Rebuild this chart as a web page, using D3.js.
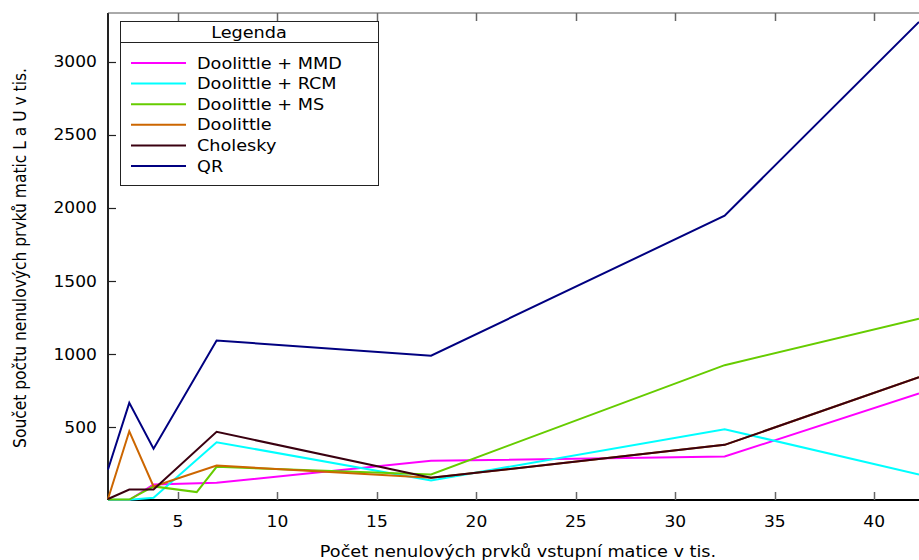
<!DOCTYPE html>
<html>
<head>
<meta charset="utf-8">
<script src="https://cdn.jsdelivr.net/npm/d3@7"></script>
<style>
  html, body { margin: 0; padding: 0; background: #fff; }
  svg { display: block; font-family: "DejaVu Sans", sans-serif; }
</style>
</head>
<body>
<svg id="chart" width="919" height="560"></svg>
<script>
// Počet nenulových prvků vstupní matice (v tisících)
const xValues = [1.48, 2.55, 3.77, 6.94, 17.72, 32.48, 42.25];
const xValuesMS = [1.48, 2.55, 3.77, 5.94, 6.94, 17.72, 32.48, 42.25];

// Součet nenulových prvků L a U (v tisících)
const doolittleMMD = [3, 3, 109, 121, 271, 300, 731];
const doolittleRCM = [5, 5, 18, 398, 137, 487, 178];
const doolittleMS = [6, 6, 96, 57, 230, 178, 925, 1243];
const doolittle = [10, 473, 96, 239, 155, 380, 842];
const cholesky = [10, 75, 75, 469, 155, 380, 842];
const qr = [212, 667, 353, 1093, 990, 1947, 3272];

const seriesNames = ["Doolittle + MMD", "Doolittle + RCM", "Doolittle + MS", "Doolittle", "Cholesky", "QR"];
const xTicks = [5, 10, 15, 20, 25, 30, 35, 40];
const yTicks = [500, 1000, 1500, 2000, 2500, 3000];

const series = [
  { name: seriesNames[0], xs: xValues,   ys: doolittleMMD, color: "#ff00ff" },
  { name: seriesNames[1], xs: xValues,   ys: doolittleRCM, color: "#00ffff" },
  { name: seriesNames[2], xs: xValuesMS, ys: doolittleMS,  color: "#66cc00" },
  { name: seriesNames[3], xs: xValues,   ys: doolittle,    color: "#cc6600" },
  { name: seriesNames[4], xs: xValues,   ys: cholesky,     color: "#3a0010" },
  { name: seriesNames[5], xs: xValues,   ys: qr,           color: "#000080" }
];

const svg = d3.select("#chart");
const plotLeft = 108, plotRight = 919, plotTop = 13, plotBottom = 500;
const stretch = 1.14; // glyphs are rendered wider than tall

const x = d3.scaleLinear().domain([1.48, 42.25]).range([plotLeft, plotRight]);
const y = d3.scaleLinear().domain([3, 3333]).range([plotBottom, plotTop]);

// horizontal text helper with widened glyphs
function label(parent, tx, ty, str, size, anchor) {
  return parent.append("text")
    .attr("transform", `translate(${tx},${ty}) scale(${stretch},1)`)
    .attr("text-anchor", anchor || "start")
    .attr("font-size", size).attr("fill", "#000").text(str);
}

// tick marks drawn inward, gnuplot style
const tickLen = 8;
const g = svg.append("g");

// borders: left, bottom, top
g.append("line").attr("x1", plotLeft).attr("x2", plotLeft).attr("y1", plotTop).attr("y2", plotBottom)
  .attr("stroke", "#222").attr("stroke-width", 2);
g.append("line").attr("x1", plotLeft).attr("x2", plotRight).attr("y1", plotBottom).attr("y2", plotBottom)
  .attr("stroke", "#000").attr("stroke-width", 2);
g.append("line").attr("x1", plotLeft).attr("x2", plotRight).attr("y1", plotTop).attr("y2", plotTop)
  .attr("stroke", "#555").attr("stroke-width", 1);

// x ticks (bottom and mirrored top)
xTicks.forEach(t => {
  const px = Math.round(x(t)) + 0.5;
  g.append("line").attr("x1", px).attr("x2", px).attr("y1", plotBottom).attr("y2", plotBottom - tickLen)
    .attr("stroke", "#666").attr("stroke-width", 1.5);
  g.append("line").attr("x1", px).attr("x2", px).attr("y1", plotTop).attr("y2", plotTop + tickLen)
    .attr("stroke", "#666").attr("stroke-width", 1.5);
  label(g, x(t), 527, t, 15, "middle");
});

// y ticks
yTicks.forEach(t => {
  const py = Math.round(y(t)) + 0.5;
  g.append("line").attr("x1", plotLeft).attr("x2", plotLeft + tickLen).attr("y1", py).attr("y2", py)
    .attr("stroke", "#222").attr("stroke-width", 1.2);
  label(g, 97, y(t) + 5.5, t, 15, "end");
});

// axis titles
label(svg, 518, 557, "Počet nenulových prvků vstupní matice v tis.", 15.5, "middle");
svg.append("text").attr("transform", `translate(26,258) scale(${stretch},1) rotate(-90)`)
  .attr("text-anchor", "middle").attr("font-size", 15.5).attr("fill", "#000")
  .text("Součet počtu nenulových prvků matic L a U v tis.");

// data lines
const line = d3.line().x(d => x(d[0])).y(d => y(d[1]));
const plot = svg.append("g");
series.forEach(s => {
  const pts = s.xs.map((v, i) => [v, s.ys[i]]);
  plot.append("path").datum(pts).attr("d", line)
    .attr("fill", "none").attr("stroke", s.color).attr("stroke-width", 2)
    .attr("stroke-linejoin", "miter");
});

// legend
const lg = svg.append("g");
lg.append("rect").attr("x", 120.5).attr("y", 21.5).attr("width", 258).attr("height", 164)
  .attr("fill", "#fff").attr("stroke", "#222").attr("stroke-width", 1);
lg.append("line").attr("x1", 120.5).attr("x2", 378.5).attr("y1", 42.5).attr("y2", 42.5)
  .attr("stroke", "#222").attr("stroke-width", 1);
label(lg, 249, 38, "Legenda", 15.5, "middle");
series.forEach((s, i) => {
  const ly = 63 + i * 20.6;
  lg.append("line").attr("x1", 131).attr("x2", 186).attr("y1", ly).attr("y2", ly)
    .attr("stroke", s.color).attr("stroke-width", 2);
  label(lg, 197, ly + 5.5, s.name, 15.5, "start");
});
</script>
</body>
</html>
